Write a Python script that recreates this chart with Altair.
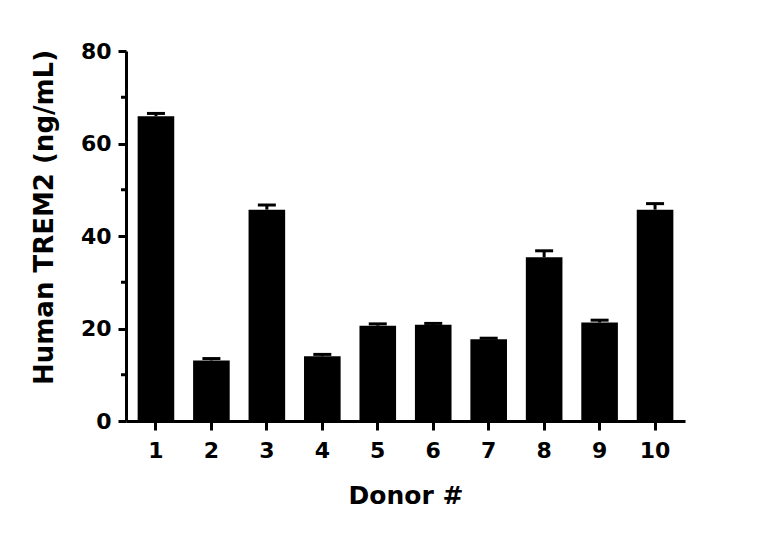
import altair as alt
import pandas as pd

donors = ["1", "2", "3", "4", "5", "6", "7", "8", "9", "10"]
means = [65.9, 13.1, 45.7, 14.0, 20.6, 20.8, 17.7, 35.4, 21.3, 45.7]
errs = [0.6, 0.4, 1.0, 0.4, 0.4, 0.3, 0.2, 1.4, 0.5, 1.3]
major_ticks = [0, 20, 40, 60, 80]
minor_ticks = [10, 30, 50, 70]

df = pd.DataFrame({"donor": donors, "mean": means, "err": errs})
df["upper"] = df["mean"] + df["err"]
minor_df = pd.DataFrame({"v": minor_ticks})

FONT = "DejaVu Sans"

x_enc = alt.X(
    "donor:N",
    sort=donors,
    scale=alt.Scale(paddingInner=0.34, paddingOuter=0.21),
    axis=alt.Axis(
        title="Donor #",
        labelAngle=0,
        labelFont=FONT,
        labelFontSize=22,
        labelFontWeight="bold",
        labelColor="black",
        labelPadding=10,
        titleFont=FONT,
        titleFontSize=25,
        titleFontWeight="bold",
        titleColor="black",
        titleBaseline="alphabetic",
        titleY=82,
        tickSize=9,
        tickWidth=3,
        tickColor="black",
        domainWidth=3,
        domainColor="black",
        grid=False,
    ),
)

y_scale = alt.Scale(domain=[0, 80], nice=False)

bars = alt.Chart(df).mark_bar(color="black", opacity=1).encode(
    x=x_enc,
    y=alt.Y(
        "mean:Q",
        scale=y_scale,
        axis=alt.Axis(
            title="Human TREM2 (ng/mL)",
            values=major_ticks,
            labelFont=FONT,
            labelFontSize=22,
            labelFontWeight="bold",
            labelColor="black",
            labelPadding=7,
            titleFont=FONT,
            titleFontSize=26,
            titleFontWeight="bold",
            titleColor="black",
            titleBaseline="alphabetic",
            titleAlign="center",
            titleX=-74,
            titleY=166,
            tickSize=8,
            tickWidth=3,
            tickColor="black",
            domainWidth=3,
            domainColor="black",
            grid=False,
        ),
    ),
)

stems = alt.Chart(df).mark_rule(color="black", strokeWidth=3, opacity=1).encode(
    x=alt.X("donor:N", sort=donors),
    y=alt.Y("mean:Q", scale=y_scale),
    y2="upper:Q",
)

caps = alt.Chart(df).mark_tick(color="black", thickness=3, size=18, opacity=1).encode(
    x=alt.X("donor:N", sort=donors),
    y=alt.Y("upper:Q", scale=y_scale),
)

minor = alt.Chart(minor_df).mark_rule(color="black", strokeWidth=3, opacity=1).encode(
    y=alt.Y("v:Q", scale=y_scale),
    x=alt.value(-5),
    x2=alt.value(0),
)

chart = (
    alt.layer(bars, stems, caps, minor)
    .properties(
        width=559,
        height=370,
        autosize=alt.AutoSizeParams(type="none"),
        padding={"left": 118, "top": 43, "right": 75, "bottom": 111},
        view=alt.ViewBackground(stroke=None, strokeWidth=0),
    )
    .configure_view(stroke=None, strokeWidth=0, strokeOpacity=0)
    .configure(background="white")
)

chart.save("out.html", embed_options={"renderer": "svg", "actions": False})
